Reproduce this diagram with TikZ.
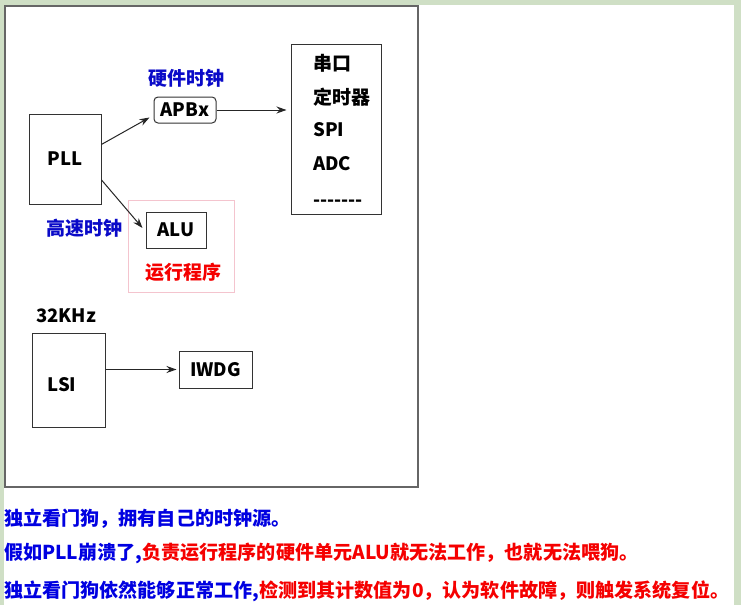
\documentclass[tikz,border=0pt]{standalone}
\usepackage{fontspec}
\setmainfont{Noto Sans CJK SC}
\usetikzlibrary{arrows.meta,calc}
\definecolor{bggreen}{RGB}{207,223,197}
\definecolor{lblue}{RGB}{10,10,200}
\definecolor{tblue}{RGB}{0,0,225}
\definecolor{tred}{RGB}{245,0,0}
\definecolor{pinkline}{RGB}{244,196,206}
\begin{document}
\begin{tikzpicture}[x=1pt,y=-1pt,
  box/.style={draw=black!80, line width=1pt, inner sep=0pt},
  cjk/.style={inner sep=0pt, font=\bfseries\fontsize{19}{19}\selectfont},
  lat/.style={inner sep=0pt, font=\bfseries\fontsize{18.5}{18.5}\selectfont},
  bottomtxt/.style={inner sep=0pt, anchor=west, font=\bfseries\fontsize{19.1}{19.1}\selectfont},
  arr/.style={-{Stealth[length=10pt,width=7pt]}, line width=1pt, draw=black!85},
  ]
\fill[bggreen] (0,0) rectangle (741,605);
\fill[white] (4,5) rectangle (734,605);
\useasboundingbox (0,0) rectangle (741,605);
\draw[black!60, line width=1.5pt] (5,6) rectangle (418,487);

% upper part
\node[box, lat, minimum width=72pt, minimum height=90pt] (pll) at (65,159) {PLL};
\node[box, lat, rounded corners=4pt, minimum width=62pt, minimum height=26pt] (apb) at (185,110) {APBx};
\node[cjk, text=lblue] (hwclk) at (186,78) {硬件时钟};
\node[box, minimum width=90pt, minimum height=170pt] (per) at (336,129) {};
\node[cjk, anchor=west] (p1) at (313,63) {串口};
\node[cjk, anchor=west] (p2) at (313,97) {定时器};
\node[lat, anchor=west] (p3) at (313,130) {SPI};
\node[lat, anchor=west] (p4) at (313,164) {ADC};
\node[lat, anchor=west] (p5) at (313,203) {-{}-{}-{}-{}-{}-{}-};

\node[draw=pinkline, line width=0.8pt, inner sep=0pt, minimum width=106pt, minimum height=92pt] (prog) at (181,246) {};
\node[box, lat, minimum width=60pt, minimum height=36pt] (alu) at (176,230) {ALU};
\node[cjk, text=tred] (run) at (183,272) {运行程序};
\node[cjk, text=lblue] (hsclk) at (84,228) {高速时钟};

% lower part
\node[lat] (khz) at (66,316) {32KHz};
\node[box, minimum width=73pt, minimum height=94pt] (lsi) at (68.5,380) {};
\node[lat] (lsitxt) at (62,385) {LSI};
\node[box, lat, minimum width=73pt, minimum height=37pt] (iwdg) at (215.5,369.5) {IWDG};

% connectors
\draw[arr] ($(pll.north east)!0.34!(pll.south east)$) -- ($(apb.south west)+(-4,-6)$);
\draw[arr, shorten >=4pt] (apb.east) -- (apb.east -| per.west);
\draw[arr] ($(pll.north east)!0.73!(pll.south east)$) -- ($(alu.west)+(-3,-2)$);
\draw[arr, shorten >=2pt] (lsi.east |- iwdg.west) -- (iwdg.west);

% bottom text
\node[bottomtxt, text=tblue] (l1) at (4,519) {独立看门狗，拥有自己的时钟源。};
\node[bottomtxt] (l2) at (4,553) {\textcolor{tblue}{假如PLL崩溃了,}\textcolor{tred}{负责运行程序的硬件单元ALU就无法工作，也就无法喂狗。}};
\node[bottomtxt] (l3) at (4,591) {\textcolor{tblue}{独立看门狗依然能够正常工作,}\textcolor{tred}{检测到其计数值为0，认为软件故障，则触发系统复位。}};
\end{tikzpicture}
\end{document}
